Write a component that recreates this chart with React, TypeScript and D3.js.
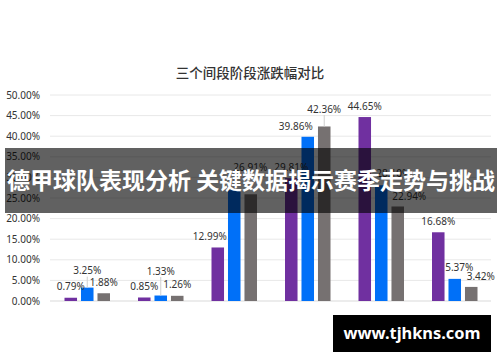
import React from 'react';
import * as d3 from 'd3';

const categories = ['组1', '组2', '组3', '组4', '组5', '组6'];
const seriesNames = ['阶段一', '阶段二', '阶段三'];
const stage1 = [0.79, 0.85, 12.99, 29.81, 44.65, 16.68];
const stage2 = [3.25, 1.33, 26.91, 39.86, 28.1, 5.37];
const stage3 = [1.88, 1.26, 25.9, 42.36, 22.94, 3.42];
const yTicks = [0, 5, 10, 15, 20, 25, 30, 35, 40, 45, 50];
const seriesColors = ['#7030A0', '#0070F8', '#767171'];

// label nudges [dx, dy] per series per group (layout only); null = label hidden
const labelNudge: ([number, number] | null)[][] = [
  [[0, 0], [0, 0], [-8, 0], [0, 0], [0, 0], [0, 0]],
  [[0, -6], [0, -13.5], [16, -12], [-12, 1], [12, -1], [4.5, 0]],
  [[0, 0], [0, 0], null, [0, -6.5], [11.5, 1], [9.5, 0]],
];

const W = 500;
const H = 362;

export default function App() {
  const values = [stage1, stage2, stage3];
  const y = d3.scaleLinear().domain([0, 50]).range([301, 95]);
  const x0 = d3.scaleBand<string>().domain(categories).range([50, 491]).paddingInner(0).paddingOuter(0);
  const x1 = d3.scaleBand<string>().domain(seriesNames).range([14.5, 60]).paddingInner(0.24).paddingOuter(0);
  const numFont = "'Noto Sans', 'DejaVu Sans', sans-serif";
  const cjkFont = "'Noto Sans CJK SC', 'Noto Sans', sans-serif";

  const bars: React.ReactNode[] = [];
  const labels: React.ReactNode[] = [];
  seriesNames.forEach((s, si) => {
    categories.forEach((c, ci) => {
      const v = values[si][ci];
      const bx = (x0(c) as number) + (x1(s) as number);
      const bw = x1.bandwidth();
      const top = y(v);
      bars.push(
        <rect key={`b${si}-${ci}`} x={bx} y={top} width={bw} height={y(0) - top} fill={seriesColors[si]} />
      );
      const nudge = labelNudge[si][ci];
      if (nudge) {
        const cx = bx + bw / 2 + nudge[0];
        const cy = top - 11 + nudge[1];
        if (nudge[1] < -5) {
          labels.push(
            <line key={`ll${si}-${ci}`} x1={bx + bw / 2} x2={bx + bw / 2} y1={cy + 6} y2={top} stroke="#cfcfcf" strokeWidth={1} />
          );
        }
        labels.push(
          <text key={`l${si}-${ci}`} x={cx} y={cy + 3.6} textAnchor="middle" fontFamily={numFont} fontSize={10} fill="#333">
            {d3.format('.2f')(v)}%
          </text>
        );
      }
    });
  });

  return (
    <svg width={W} height={H} style={{ position: 'fixed', left: 0, top: 0, background: '#fff' }}>
      <rect x={0} y={0} width={W} height={H} fill="#fff" />
      <text x={250} y={78} textAnchor="middle" fontFamily={cjkFont} fontSize={13.5} fontWeight={500} fill="#333">
        三个间段阶段涨跌幅对比
      </text>
      {yTicks.map((t) => (
        <g key={t}>
          <line x1={50} x2={491} y1={y(t)} y2={y(t)} stroke={t === 0 ? '#d9d9d9' : '#e8e8e8'} strokeWidth={1} />
          <text x={40} y={y(t) + 3.6} textAnchor="end" fontFamily={numFont} fontSize={10} fill="#333">
            {d3.format('.2f')(t)}%
          </text>
        </g>
      ))}
      {bars}
      {labels}
      <rect x={5} y={148} width={492} height={65} fill="rgba(0,0,0,0.62)" />
      <text x={251} y={188.5} textAnchor="middle" fontFamily={cjkFont} fontSize={23} fontWeight={700} fill="#fff" textLength={488} lengthAdjust="spacingAndGlyphs">
        德甲球队表现分析 关键数据揭示赛季走势与挑战
      </text>
      <rect x={333} y={315} width={158} height={37} fill="#000" />
      <text x={412} y={339} textAnchor="middle" fontFamily={numFont} fontSize={16} fontWeight={700} fill="#fff" textLength={137} lengthAdjust="spacingAndGlyphs">
        www.tjhkns.com
      </text>
    </svg>
  );
}
